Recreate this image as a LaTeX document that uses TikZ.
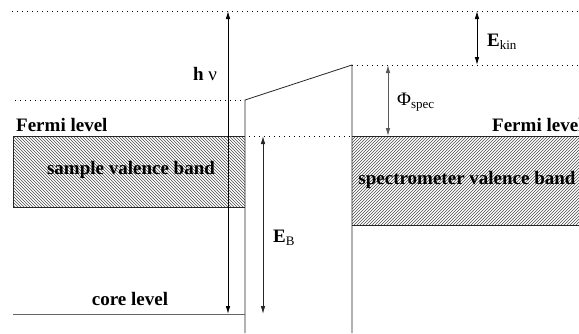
\documentclass[tikz,border=0pt]{standalone}
\usepackage{fontspec}
\setmainfont{Liberation Serif}
\usetikzlibrary{patterns,arrows.meta}
\begin{document}
\begin{tikzpicture}[x=1pt,y=-1pt,
  lbl/.style={font=\fontsize{19}{19}\selectfont\bfseries, inner sep=0pt},
  sym/.style={font=\fontsize{19}{19}\selectfont, inner sep=0pt},
  dotline/.style={dash pattern=on 0.8pt off 4.2pt, line width=0.8pt},
  dim/.style={{Latex[length=8pt,width=4.5pt]}-{Latex[length=8pt,width=4.5pt]}, line width=0.8pt},
  edge/.style={line width=0.8pt, black!85}]
\useasboundingbox (0,0) rectangle (579,333);
% coordinates
\coordinate (topL) at (12,11);
\coordinate (topR) at (579,11);
\coordinate (vacL) at (15,100);
\coordinate (s1) at (245,100);
\coordinate (s0) at (245,333);
\coordinate (p1) at (352,65);
\coordinate (p0) at (352,333);
\coordinate (spR) at (579,65);
\coordinate (fdL) at (249,136);
\coordinate (fdR) at (352,136);
\coordinate (coreL) at (13,314);
\coordinate (coreR) at (245,314);
% dotted levels
\draw[dotline] (topL) -- (topR);
\draw[dotline] (vacL) -- (s1);
\draw[dotline] (fdL) -- (fdR);
\draw[dotline] (p1) -- (spR);
% sample valence band
\fill[pattern=north west lines, pattern color=black!70] (13,136) rectangle (245,207);
\draw[edge] (245,136) -- (13,136) -- (13,207) -- (245,207);
% spectrometer valence band
\fill[pattern=north east lines, pattern color=black!70] (352,136) rectangle (580,225);
\draw[edge] (352,136) -- (580,136);
\draw[edge] (352,225) -- (580,225);
% sample and spectrometer outlines
\draw[edge] (s0) -- (s1) -- (p1) -- (p0);
% core level
\draw[line width=0.8pt, black!60] (coreL) -- (coreR);
% arrows
\coordinate (hvT) at (228,11);
\coordinate (hvB) at (228,314);
\draw[dim] (hvB) -- (hvT);
\coordinate (ebT) at (263,136);
\coordinate (ebB) at (263,314);
\draw[dim, black!85] (ebB) -- (ebT);
\coordinate (phT) at (388,65);
\coordinate (phB) at (388,136);
\draw[dim, black!65] (phB) -- (phT);
\coordinate (ekT) at (477,11);
\coordinate (ekB) at (477,65);
\draw[dim] (ekB) -- (ekT);
% labels
\node[lbl] (hv) at (205,74) {h \mdseries ν};
\node[lbl, anchor=base west] (fl) at (16,131) {Fermi level};
\node[lbl, anchor=base west] (fr) at (492,131) {Fermi level};
\node[lbl] (svb) at (131,170) {sample valence band};
\node[lbl] (spvb) at (467,180) {spectrometer valence band};
\node[lbl] (cl) at (130,299) {core level};
\node[lbl, anchor=base west] (eb) at (273,242) {E\raisebox{-3pt}{\mdseries\fontsize{13}{13}\selectfont B}};
\node[sym, anchor=base west] (ph) at (397,105) {Φ\raisebox{-3pt}{\fontsize{13}{13}\selectfont spec}};
\node[lbl, anchor=base west] (ek) at (487,46) {E\raisebox{-3pt}{\mdseries\fontsize{13}{13}\selectfont kin}};
\end{tikzpicture}
\end{document}
